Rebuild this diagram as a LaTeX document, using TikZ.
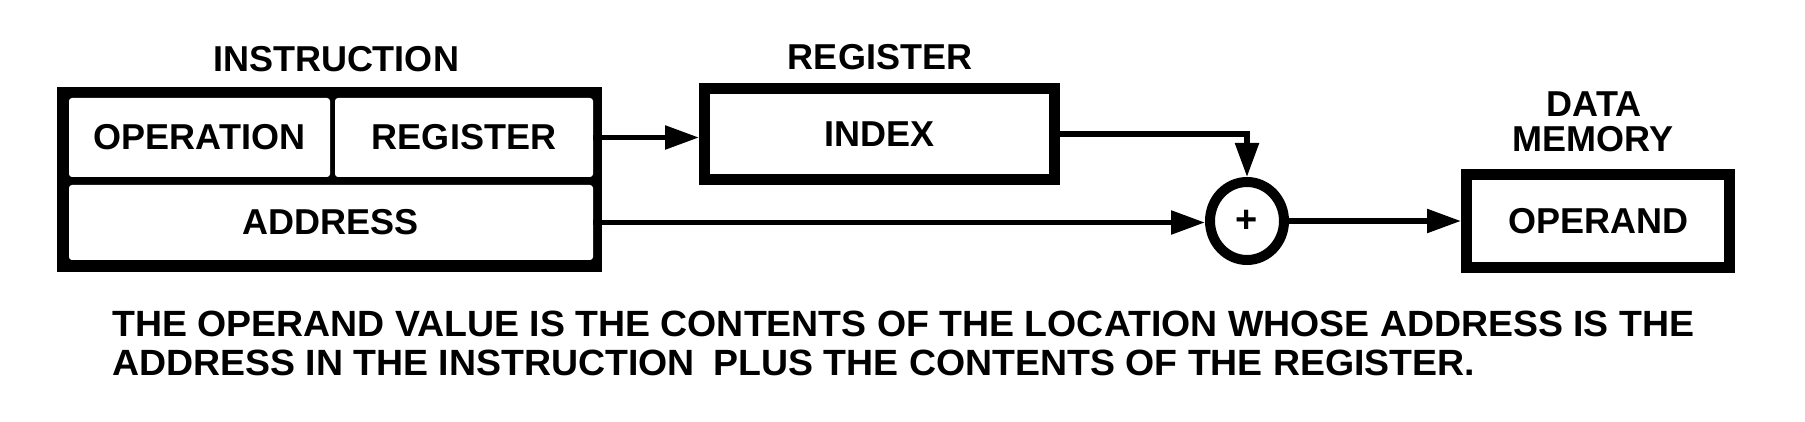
\documentclass[tikz,border=0pt]{standalone}
\usepackage{fontspec}
\setmainfont{Liberation Sans}
\usetikzlibrary{arrows.meta,shapes.geometric}
\begin{document}
\begin{tikzpicture}[x=1pt,y=-1pt,
  bigfont/.style={font=\fontsize{36}{38}\selectfont\bfseries},
  lbl/.style={bigfont, inner sep=0pt, anchor=base},
  cell/.style={bigfont, fill=white, rounded corners=3pt, inner sep=0pt},
  framebox/.style={bigfont, draw=black, fill=white, line width=11pt, inner sep=0pt},
  conn/.style={line width=5.5pt, -{Triangle[length=34pt,width=23pt]}},
]
\fill[white] (0,0) rectangle (1805,422);
\useasboundingbox (0,0) rectangle (1805,422);

% instruction word
\node[fill=black, minimum width=545pt, minimum height=185pt, inner sep=0pt] (instr) at (329.5,179.5) {};
\node[cell, minimum width=261pt, minimum height=79pt] (op) at (199.5,137.5) {OPERATION};
\node[cell, minimum width=258pt, minimum height=79pt] (reg) at (464,137.5) {REGISTER};
\node[cell, minimum width=524pt, minimum height=75pt] (addr) at (331,222.5) {ADDRESS};
\node[lbl] (tinstr) at (336,72) {INSTRUCTION};

% index register
\node[framebox, minimum width=350pt, minimum height=91pt] (index) at (879.5,134) {INDEX};
\node[lbl] (treg) at (880,70) {REGISTER};

% adder
\node[draw, ellipse, line width=10pt, minimum width=74pt, minimum height=78pt, inner sep=0pt,
      font=\fontsize{38}{38}\selectfont\bfseries] (sum) at (1247,221) {+};

% data memory
\node[framebox, minimum width=263pt, minimum height=93pt] (operand) at (1598,221) {OPERAND};
\node[lbl] (tdata) at (1594,117) {DATA};
\node[lbl] (tmem) at (1593,152) {MEMORY};

% connectors
\draw[conn] (reg.east) -- (reg.east -| index.west);
\draw[conn] (index.east) -| (sum.north);
\draw[conn] (addr.east) -- (addr.east -| sum.west);
\draw[conn] (sum.east) -- (operand.west);

% caption
\node[lbl, anchor=base west] (cap1) at (112,337)
  {\resizebox{1582pt}{25.5pt}{THE OPERAND VALUE IS THE CONTENTS OF THE LOCATION WHOSE ADDRESS IS THE}};
\node[lbl, anchor=base west] (cap2) at (112,375)
  {\resizebox{1363pt}{25.5pt}{ADDRESS IN THE INSTRUCTION\hspace{18pt}PLUS THE CONTENTS OF THE REGISTER.}};
\end{tikzpicture}
\end{document}
